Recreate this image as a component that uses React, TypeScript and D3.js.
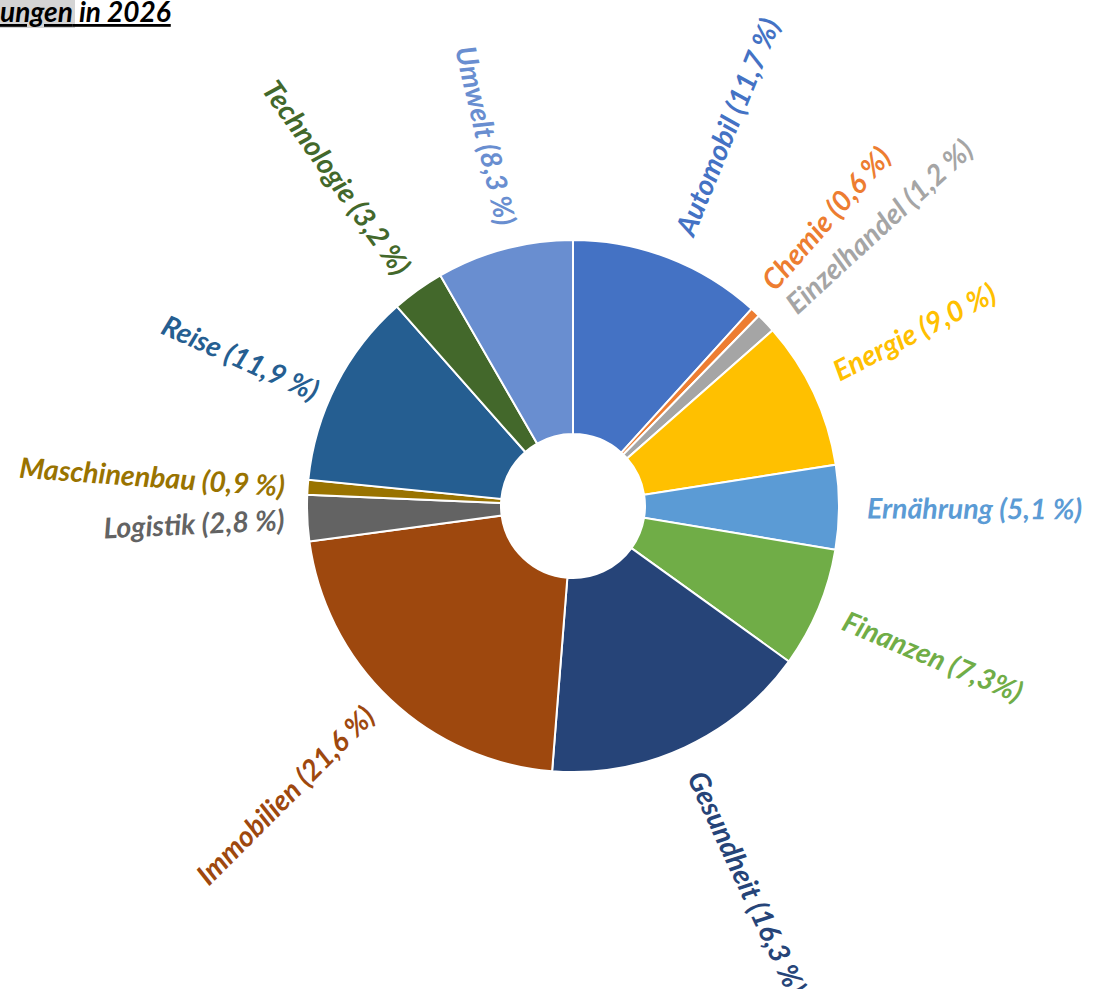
import React from "react";
import * as d3 from "d3";

const categories = ["Automobil", "Chemie", "Einzelhandel", "Energie", "Ernährung", "Finanzen", "Gesundheit", "Immobilien", "Logistik", "Maschinenbau", "Reise", "Technologie", "Umwelt"];
const values = [11.7, 0.6, 1.2, 9.0, 5.1, 7.3, 16.3, 21.6, 2.8, 0.9, 11.9, 3.2, 8.3];
const labels = ["Automobil (11,7 %)", "Chemie (0,6 %)", "Einzelhandel (1,2 %)", "Energie (9,0 %)", "Ernährung (5,1 %)", "Finanzen (7,3%)", "Gesundheit (16,3 %)", "Immobilien (21,6 %)", "Logistik (2,8 %)", "Maschinenbau (0,9 %)", "Reise (11,9 %)", "Technologie (3,2 %)", "Umwelt (8,3 %)"];
const colors = ["#4472C4", "#ED7D31", "#A5A5A5", "#FFC000", "#5B9BD5", "#70AD47", "#264478", "#9E480E", "#636363", "#997300", "#255E91", "#43682B", "#698ED0"];
// small angular nudges (degrees) and radial nudges (px) so labels sit like the original
const labelNudge = [1, -2, 1, -2, 0, 0, 0, 1.5, 0, 0, -3, 0, 1.8];
const labelRadialNudge = [0, 0, 0, 0, 0, 0, 0, 0, 0, 0, -9, 0, 0];
const titleHighlight = "ungen";
const titleRest = " in 2026";

const W = 1097;
const H = 989;
const cx = 573;
const cy = 506;
const outerR = 266;
const innerR = 72;
const labelRRight = 294;
const labelRLeft = 289;

export default function App() {
  const pie = d3.pie<number>().sort(null).value((d) => d)(values);
  const arc = d3.arc<d3.PieArcDatum<number>>().innerRadius(innerR).outerRadius(outerR);
  const font = "Lato, 'Open Sans', sans-serif";
  return (
    <svg width={W} height={H} style={{ position: "absolute", left: 0, top: 0 }} fontFamily={font}>
      <rect x={0} y={0} width={W} height={H} fill="#fff" />
      <rect x={0} y={0} width={75} height={28} fill="#d4d4d4" />
      <text x={0} y={22} fontSize={28} fontWeight="bold" fontStyle="italic" fill="#000" textDecoration="underline">
        <tspan>{titleHighlight}</tspan>
        <tspan>{titleRest}</tspan>
      </text>
      <g transform={`translate(${cx},${cy})`}>
        {pie.map((p, i) => (
          <path key={categories[i]} d={arc(p) || ""} fill={colors[i]} stroke="#fff" strokeWidth={2} />
        ))}
        {pie.map((p, i) => {
          const a = (p.startAngle + p.endAngle) / 2 + (labelNudge[i] * Math.PI) / 180;
          const deg = (a * 180) / Math.PI;
          const right = a < Math.PI;
          const r = (right ? labelRRight : labelRLeft) + labelRadialNudge[i];
          const x = r * Math.sin(a);
          const y = -r * Math.cos(a);
          const rot = right ? deg - 90 : deg + 90;
          return (
            <text
              key={"l" + categories[i]}
              transform={`translate(${x},${y}) rotate(${rot})`}
              textAnchor={right ? "start" : "end"}
              dominantBaseline="central"
              fontSize={28.5}
              fontWeight="bold"
              fontStyle="italic"
              fill={colors[i]}
            >
              {labels[i]}
            </text>
          );
        })}
      </g>
    </svg>
  );
}
